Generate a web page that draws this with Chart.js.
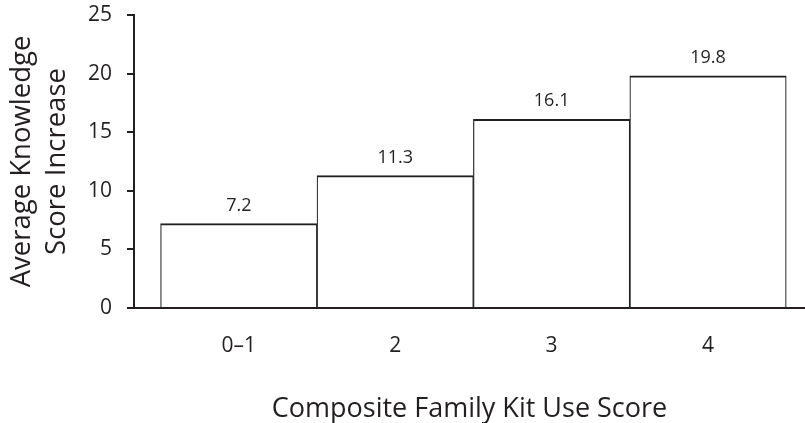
<!DOCTYPE html>
<html>

<head>
    <meta charset="UTF-8">
    <title>Knowledge Score Increase</title>
    <script src="https://cdn.jsdelivr.net/npm/chart.js"></script>
    <style>
        html, body { margin: 0; padding: 0; background: #fff; }
        #wrap { width: 805px; height: 423px; }
    </style>
</head>

<body>
    <div id="wrap"><canvas id="myChart" width="805" height="423"></canvas></div>
</body>
<script>
    // values
    const categories = ['0\u20131', '2', '3', '4'];
    const scoreIncrease = [7.2, 11.3, 16.1, 19.8];
    const yTicks = [0, 5, 10, 15, 20, 25];

    const ink = '#231f20';
    const fontName = "'Open Sans', 'Noto Sans', sans-serif";

    // bars sit at x = 1..n on a linear axis so they can touch each other
    var points = [];
    for (var i = 0; i < categories.length; i++) {
        points.push({ x: i + 1, y: scoreIncrease[i] });
    }

    // value printed above each bar
    const valueLabels = {
        id: 'valueLabels',
        afterDatasetsDraw(chart) {
            var ctx = chart.ctx;
            var meta = chart.getDatasetMeta(0);
            ctx.save();
            ctx.font = '18px ' + fontName;
            ctx.fillStyle = ink;
            ctx.textAlign = 'center';
            ctx.textBaseline = 'middle';
            meta.data.forEach(function (bar, i) {
                ctx.fillText(scoreIncrease[i].toFixed(1), bar.x, bar.y - 18);
            });
            ctx.restore();
        }
    };

    var ctx = document.getElementById('myChart').getContext('2d');
    var myChart = new Chart(ctx, {
        type: 'bar',
        data: {
            datasets: [{
                data: points,
                backgroundColor: '#ffffff',
                borderColor: ink,
                borderWidth: { top: 2, left: 1.2, right: 1.2, bottom: 0 },
                borderSkipped: false,
                barPercentage: 1,
                categoryPercentage: 1
            }]
        },
        options: {
            responsive: false,
            animation: false,
            layout: { padding: 0 },
            plugins: {
                legend: { display: false },
                tooltip: { enabled: false }
            },
            scales: {
                x: {
                    type: 'linear',
                    offset: false,
                    min: 0.33,
                    max: 4.62,
                    afterBuildTicks: function (scale) {
                        scale.ticks = categories.map(function (c, i) { return { value: i + 1 }; });
                    },
                    afterFit: function (scale) {
                        scale.height = 115;
                        scale.paddingLeft = 0;
                        scale.paddingRight = 0;
                    },
                    grid: { display: false },
                    border: { display: true, color: ink, width: 2 },
                    ticks: {
                        color: ink,
                        font: { family: fontName, size: 21 },
                        padding: 17,
                        maxRotation: 0,
                        autoSkip: false,
                        callback: function (v) { return categories[v - 1]; }
                    },
                    title: {
                        display: true,
                        text: 'Composite Family Kit Use Score',
                        color: ink,
                        font: { family: fontName, size: 27, lineHeight: 1.05 },
                        padding: { top: 0, bottom: 0 }
                    }
                },
                y: {
                    min: 0,
                    max: 25,
                    afterBuildTicks: function (scale) {
                        scale.ticks = yTicks.map(function (v) { return { value: v }; });
                    },
                    afterFit: function (scale) {
                        scale.width = 134;
                        scale.paddingTop = 15;
                        scale.paddingBottom = 0;
                    },
                    grid: {
                        drawOnChartArea: false,
                        drawTicks: true,
                        tickLength: 7,
                        color: ink,
                        lineWidth: 2
                    },
                    border: { display: true, color: ink, width: 2 },
                    ticks: {
                        color: ink,
                        font: { family: fontName, size: 21 },
                        padding: 15
                    },
                    title: {
                        display: true,
                        text: ['Average Knowledge', 'Score Increase'],
                        color: ink,
                        font: { family: fontName, size: 27.5, lineHeight: 1.27 },
                        padding: { top: 5, bottom: 0 }
                    }
                }
            }
        },
        plugins: [valueLabels]
    });
</script>

</html>
